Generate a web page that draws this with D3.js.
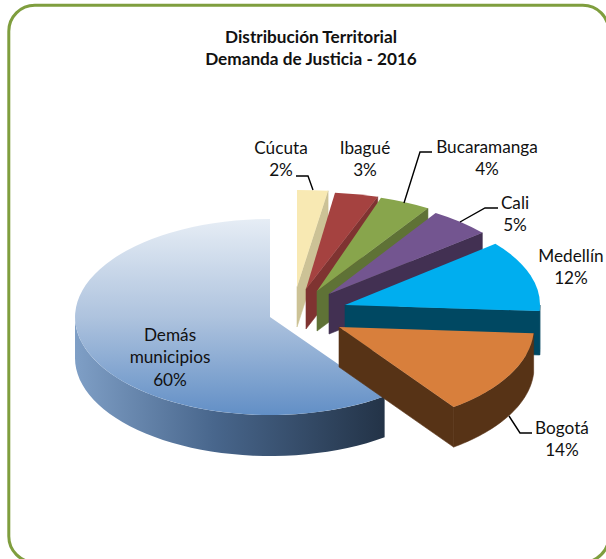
<!DOCTYPE html>
<html><head><meta charset="utf-8">
<script src="https://cdn.jsdelivr.net/npm/d3@7"></script>
<style>html,body{margin:0;padding:0;background:#fff;overflow:hidden}svg{display:block}text{font-family:Lato,"Open Sans",sans-serif;fill:#111}</style>
</head><body><svg id="c" width="606" height="559"></svg>
<script>
const titleLines = ["Distribución Territorial", "Demanda de Justicia - 2016"];
const categories = ["Cúcuta", "Ibagué", "Bucaramanga", "Cali", "Medellín", "Bogotá", "Demás municipios"];
const values = [2, 3, 4, 5, 12, 14, 60];
const topColors = ["#f8e9b3", "#a54240", "#88a54c", "#735590", "#00aeef", "#d87f3c", null];
const wallColors = ["#ccc296", "#7f3331", "#5f7236", "#423052", "#004862", "#573316", null];
// Layout of each exploded wedge: apex position, elliptical radii and thickness as drawn in the picture
const apexX = [297, 306, 317, 329, 345, 339, 270];
const apexY = [287, 289, 291, 294, 305, 327, 317];
const radX = [248, 232, 207, 199, 195, 195, 195];
const radY = [97, 97, 98, 96, 96, 99, 98];
const depths = [40, 40, 40, 40, 44, 40, 41];
const labelLines = [["Cúcuta","2%"],["Ibagué","3%"],["Bucaramanga","4%"],["Cali","5%"],["Medellín","12%"],["Bogotá","14%"],["Demás","municipios","60%"]];
const labelX = [281, 365, 487, 515, 571, 562, 170];
const labelY = [148, 148, 147, 203, 256, 428, 335];
const leaders = [
  [[296,176],[308,176],[313,190]],
  [[432,152],[420,152],[404,203]],
  [[498,208],[485,208],[460,222]],
  [[532,433],[520,433],[509,416]]
];

const svg = d3.select("#c");
const defs = svg.append("defs");
const gt = defs.append("linearGradient").attr("id","demasTop").attr("x1",0).attr("y1",0).attr("x2",0).attr("y2",1);
gt.append("stop").attr("offset",0).attr("stop-color","#e6edf5");
gt.append("stop").attr("offset",0.5).attr("stop-color","#aec3de");
gt.append("stop").attr("offset",1).attr("stop-color","#628fc6");
const gw = defs.append("linearGradient").attr("id","demasWall").attr("x1",0).attr("y1",0).attr("x2",1).attr("y2",0);
gw.append("stop").attr("offset",0).attr("stop-color","#7f9fc6");
gw.append("stop").attr("offset",0.45).attr("stop-color","#48668c");
gw.append("stop").attr("offset",1).attr("stop-color","#233347");
topColors[6] = "url(#demasTop)";
wallColors[6] = "url(#demasWall)";

svg.append("rect").attr("x",8.8).attr("y",5.3).attr("width",600).attr("height",557)
  .attr("rx",26).attr("ry",26).attr("fill","#fff").attr("stroke","#7f9e3e").attr("stroke-width",3);

const title = svg.append("text").attr("text-anchor","middle").attr("font-weight",700).attr("font-size",17.2);
titleLines.forEach((t,i)=>title.append("tspan").attr("x",311).attr("y",42.5+i*22).text(t));

const arcs = d3.pie().sort(null).startAngle(0).endAngle(2*Math.PI)(values);
const line = d3.line();
const rim = (i,a,dz=0)=>[apexX[i]+radX[i]*Math.sin(a), apexY[i]-radY[i]*Math.cos(a)+dz];
const sample = (a0,a1)=>d3.range(0,41).map(k=>a0+(a1-a0)*k/40);
const topArc = d3.arc().innerRadius(0).outerRadius(1);

function wedge(i){
  const a0 = arcs[i].startAngle, a1 = arcs[i].endAngle;
  const depth = depths[i];
  const g = svg.append("g");
  const A=[apexX[i],apexY[i]];
  if (i<=5){
    const e=rim(i,a1);
    g.append("path").attr("d",line([A,e,[e[0],e[1]+depth],[A[0],A[1]+depth]])+"Z")
      .attr("fill",wallColors[i]).attr("stroke",wallColors[i]).attr("stroke-width",0.6);
  }
  const lo=Math.max(a0,Math.PI/2), hi=Math.min(a1,3*Math.PI/2);
  if (hi>lo){
    const pts=sample(lo,hi);
    const poly=pts.map(a=>rim(i,a)).concat(pts.slice().reverse().map(a=>rim(i,a,depth)));
    g.append("path").attr("d",line(poly)+"Z").attr("fill",wallColors[i])
      .attr("stroke",i<6?wallColors[i]:"none").attr("stroke-width",0.6);
  }
  g.append("path").attr("d",topArc(arcs[i]))
    .attr("transform",`translate(${apexX[i]},${apexY[i]}) scale(${radX[i]},${radY[i]})`)
    .attr("fill",topColors[i]);
}
[6,0,1,2,3,4,5].forEach(wedge);

svg.append("g").selectAll("path").data(leaders).join("path")
  .attr("d",d=>line(d)).attr("fill","none").attr("stroke","#000").attr("stroke-width",1.4);

labelLines.forEach((ls,i)=>{
  const t=svg.append("text").attr("text-anchor","middle").attr("font-size",17.2);
  ls.forEach((s,k)=>t.append("tspan").attr("x",labelX[i]).attr("y",labelY[i]+5.5+k*22.5).text(s));
});
</script></body></html>
